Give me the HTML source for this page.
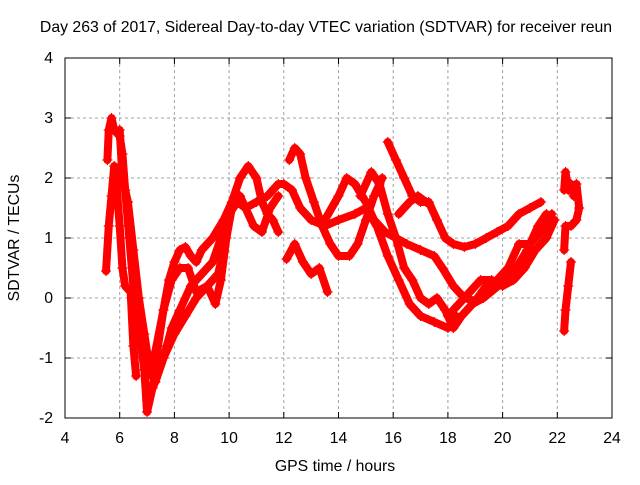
<!DOCTYPE html>
<html><head><meta charset="utf-8"><style>
body{margin:0;background:#fff}
svg text{font-family:"Liberation Sans",sans-serif;font-size:15.8px;fill:#000}
</style></head><body>
<svg width="640" height="480">
<text x="326" y="32" text-anchor="middle">Day 263 of 2017, Sidereal Day-to-day VTEC variation (SDTVAR) for receiver reun</text>
<g id="grid"></g>
<rect x="65" y="58" width="547" height="360" fill="none" stroke="#000"/>
<g id="ticks"></g>
<g id="marks"></g>
<text x="335" y="471" text-anchor="middle">GPS time / hours</text>
<text transform="translate(19,238) rotate(-90)" text-anchor="middle">SDTVAR / TECUs</text>
</svg>
<script>
const xTicks=[4,6,8,10,12,14,16,18,20,22,24];
const yTicks=[-2,-1,0,1,2,3,4];
const tracks=[
[[5.5,0.45],[5.6,1.2],[5.7,1.7],[5.8,2.2],[5.9,1.8],[6.0,1.2],[6.1,0.5],[6.2,0.2],[6.4,0.1],[6.5,-0.8],[6.6,-1.3]],
[[5.55,2.3],[5.6,2.8],[5.7,3.0],[5.8,2.8],[6.0,2.7],[6.1,2.4],[6.2,1.8],[6.35,1.0],[6.5,0.2],[6.7,-0.5],[6.9,-1.2],[7.0,-1.9],[7.2,-1.5],[7.4,-0.8],[7.6,-0.2],[7.8,0.3],[8.0,0.6],[8.2,0.8],[8.4,0.85],[8.6,0.7],[8.8,0.6],[9.0,0.8],[9.4,1.0],[9.8,1.3],[10.1,1.6],[10.4,2.0],[10.7,2.2],[11.0,2.0],[11.2,1.6],[11.4,1.4],[11.6,1.3],[11.8,1.1]],
[[6.0,2.8],[6.1,2.0],[6.3,1.6],[6.5,0.8],[6.7,0.0],[6.9,-0.6],[7.1,-1.2],[7.3,-1.4],[7.6,-1.0],[7.9,-0.5],[8.2,-0.2],[8.6,0.2],[9.0,0.4],[9.4,0.6],[9.7,1.0],[10.0,1.4],[10.3,1.6],[10.6,1.5],[11.0,1.6],[11.4,1.7],[11.8,1.9],[12.0,1.9],[12.3,1.8],[12.6,1.5],[13.0,1.3],[13.5,1.2],[14.0,1.3],[14.6,1.4],[15.0,1.5],[15.4,1.2],[15.8,0.7],[16.2,0.3],[16.6,-0.1],[17.0,-0.3],[17.5,-0.4],[18.0,-0.5],[18.3,-0.3]],
[[7.0,-1.3],[7.3,-0.9],[7.6,-0.2],[7.9,0.3],[8.2,0.5],[8.5,0.5],[8.8,0.1],[9.2,0.2],[9.5,-0.1],[9.7,0.3],[9.9,1.0],[10.1,1.5],[10.4,1.7],[10.6,1.5],[10.9,1.2],[11.2,1.1],[11.5,1.5],[11.8,1.7]],
[[7.0,-1.7],[7.3,-1.4],[7.6,-1.0],[8.0,-0.6],[8.4,-0.3],[8.8,0.0],[9.2,0.2],[9.6,0.4],[9.8,0.8]],
[[12.1,0.65],[12.4,0.9],[12.7,0.6],[13.0,0.4],[13.3,0.5],[13.6,0.1]],
[[12.2,2.3],[12.4,2.5],[12.6,2.4],[12.8,2.0],[13.1,1.6],[13.4,1.2],[13.7,0.9],[14.0,0.7],[14.4,0.7],[14.7,0.9],[15.0,1.3],[15.3,1.7],[15.6,2.0]],
[[15.8,2.6],[16.1,2.3],[16.4,2.0],[16.7,1.7],[17.0,1.6],[17.3,1.6],[17.6,1.3],[17.9,1.0],[18.2,0.9],[18.6,0.85],[19.0,0.9],[19.4,1.0],[19.8,1.1],[20.2,1.2],[20.6,1.4],[21.0,1.5],[21.4,1.6]],
[[14.8,1.7],[15.2,2.1],[15.5,1.9],[15.8,1.4],[16.1,1.0],[16.4,0.5],[16.7,0.3],[17.0,0.0],[17.3,-0.1],[17.6,0.0],[17.9,-0.2],[18.2,-0.5],[18.5,-0.3],[18.9,-0.1],[19.3,0.0],[19.7,0.15],[20.1,0.3],[20.5,0.5],[20.9,0.8],[21.3,1.2],[21.6,1.4]],
[[13.5,1.3],[14.0,1.7],[14.3,2.0],[14.6,1.9],[15.0,1.6],[15.3,1.3],[15.7,1.1],[16.1,1.0],[16.5,0.9],[17.0,0.8],[17.5,0.7],[17.8,0.5],[18.2,0.2],[18.6,0.0],[19.0,-0.05],[19.4,0.2],[19.8,0.3],[20.2,0.5],[20.6,0.9],[21.0,0.9],[21.4,1.1],[21.8,1.4]],
[[16.2,1.4],[16.6,1.6],[16.9,1.7],[17.2,1.6]],
[[18.0,-0.3],[18.4,-0.1],[18.8,0.1],[19.2,0.3],[19.6,0.3],[20.0,0.2],[20.4,0.3],[20.8,0.5],[21.2,0.8],[21.6,1.0],[21.9,1.3]],
[[22.25,1.8],[22.3,2.1],[22.4,1.8],[22.5,1.9],[22.6,1.7],[22.7,1.9],[22.8,1.5],[22.7,1.3],[22.5,1.2],[22.3,1.2],[22.25,0.8]],
[[22.25,-0.55],[22.3,-0.2],[22.4,0.2],[22.5,0.6]]
];
const NS="http://www.w3.org/2000/svg";
const X=h=>65+(h-4)*547/20, Y=v=>58+(4-v)*60;
const grid=document.getElementById('grid'),ticks=document.getElementById('ticks'),marks=document.getElementById('marks');
function mk(tag,a,p){const e=document.createElementNS(NS,tag);for(const k in a)e.setAttribute(k,a[k]);p.appendChild(e);return e;}
xTicks.forEach(t=>{const x=X(t);
 if(t>4&&t<24){const g=mk('line',{x1:x,y1:58,x2:x,y2:418,stroke:'#a0a0a0','stroke-dasharray':'3,3'},grid);
 
 }
 mk('line',{x1:x,y1:418,x2:x,y2:412,stroke:'#000'},ticks);mk('line',{x1:x,y1:58,x2:x,y2:64,stroke:'#000'},ticks);
 const l=mk('text',{x:x,y:443,'text-anchor':'middle'},ticks);l.textContent=t;
 
 });
yTicks.forEach(t=>{const y=Y(t);
 if(t>-2&&t<4){const g=mk('line',{x1:65,y1:y,x2:612,y2:y,stroke:'#a0a0a0','stroke-dasharray':'3,3'},grid);
 
 }
 mk('line',{x1:65,y1:y,x2:71,y2:y,stroke:'#000'},ticks);mk('line',{x1:612,y1:y,x2:606,y2:y,stroke:'#000'},ticks);
 const l=mk('text',{x:53,y:y+5,'text-anchor':'end'},ticks);l.textContent=t;
 
 });
tracks.forEach((tr,i)=>{
 const p=mk('polyline',{points:tr.map(d=>X(d[0])+','+Y(d[1])).join(' '),fill:'none',stroke:'#ff0000','stroke-width':8,'stroke-linejoin':'round','stroke-linecap':'round'},marks);
 
 
 tr.forEach(d=>{const x=X(d[0]),y=Y(d[1]);
  const m=mk('path',{d:`M${x-5},${y}H${x+5}M${x},${y-5}V${y+5}`,stroke:'#ff0000','stroke-width':1.2},marks);
  
  });
});
</script>
</body></html>
